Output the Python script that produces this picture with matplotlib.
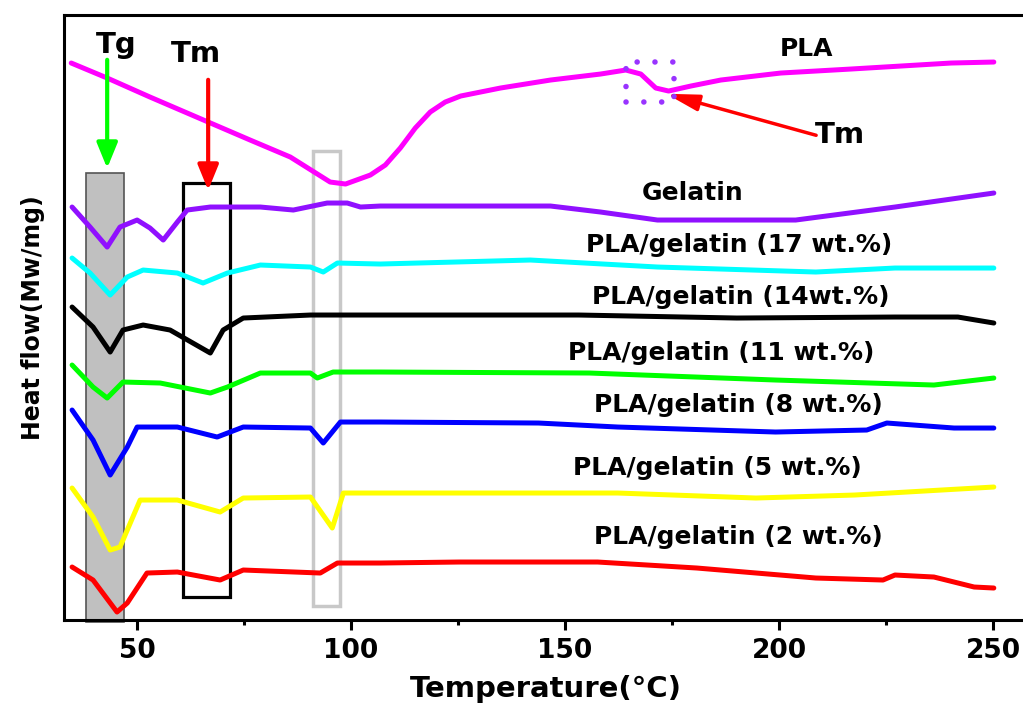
import matplotlib
matplotlib.use("Agg")
import matplotlib.pyplot as plt
from matplotlib.patches import Rectangle, FancyArrowPatch
from matplotlib.ticker import MultipleLocator

plt.rcParams["font.family"] = ["DejaVu Sans"]
plt.rcParams["font.weight"] = "bold"

# DSC curves, temperature (°C) vs stacked heat flow (arbitrary offset units)
pla_t = [34.6, 43.0, 53.0, 66.6, 76.4, 85.8, 95.1, 98.7, 104.5, 108.0, 111.5, 115.0, 118.5, 122.0,
         125.6, 134.9, 146.6, 158.3, 164.2, 167.7, 171.2, 174.2, 179.4, 186.4, 200.4, 216.8,
         228.5, 240.2, 250.2]
pla_y = [557, 542, 523, 498, 480, 463, 438, 436, 445, 455, 472, 492, 508, 518,
         524, 532, 540, 546, 550, 546, 532, 529, 534, 540, 547, 551, 554, 557, 558]

gel_t = [34.8, 39.0, 43.0, 46.0, 50.0, 53.0, 56.1, 59.4, 61.7, 67.1, 78.8, 86.5, 94.4, 99.1,
         102.2, 106.8, 146.6, 158.3, 171.6, 203.9, 227.1, 250.2]
gel_y = [413, 393, 373, 393, 400, 392, 380, 398, 410, 413, 413, 410, 417, 417,
         413, 414, 414, 408, 400, 400, 413, 427]

g17_t = [34.8, 39.0, 43.7, 47.7, 51.4, 59.4, 65.4, 71.1, 78.8, 90.5, 93.5, 96.8, 106.8,
         141.9, 171.6, 208.6, 227.1, 250.2]
g17_y = [362, 347, 325, 343, 350, 347, 337, 347, 355, 353, 348, 357, 356,
         360, 353, 348, 352, 352]

g14_t = [34.8, 39.7, 43.7, 46.7, 51.4, 57.7, 67.1, 70.1, 74.8, 90.5, 106.8, 153.2, 190.1,
         227.1, 241.8, 250.2]
g14_y = [313, 293, 268, 290, 295, 290, 267, 290, 302, 305, 305, 305, 302, 303, 303, 297]

g11_t = [34.8, 39.7, 43.0, 46.7, 55.4, 67.1, 71.1, 78.8, 90.5, 92.1, 95.8, 106.8, 155.7,
         199.2, 236.2, 250.2]
g11_y = [255, 233, 222, 238, 237, 227, 233, 247, 247, 242, 248, 248, 247, 240, 235, 242]

g8_t = [34.8, 39.7, 43.7, 47.7, 50.0, 59.4, 68.7, 74.8, 90.5, 93.5, 97.5, 106.8, 143.8,
        162.3, 199.2, 220.5, 225.2, 240.9, 250.2]
g8_y = [210, 180, 145, 173, 193, 193, 183, 193, 192, 177, 198, 198, 197,
        193, 188, 190, 197, 192, 192]

g5_t = [34.8, 39.7, 43.7, 46.0, 50.7, 59.4, 69.4, 74.8, 90.5, 95.6, 98.2, 106.8, 162.3,
        194.6, 217.7, 250.2]
g5_y = [132, 103, 70, 73, 120, 120, 108, 122, 123, 92, 127, 127, 127, 122, 125, 133]

g2_t = [34.8, 39.7, 45.3, 47.7, 52.3, 59.4, 69.4, 74.8, 92.8, 96.8, 106.8, 125.3, 157.6,
        180.8, 208.6, 224.3, 227.1, 236.2, 245.6, 250.2]
g2_y = [53, 40, 8, 17, 47, 48, 40, 50, 47, 57, 57, 58, 58, 52, 42, 40, 45, 43, 33, 32]

series = [
    (pla_t, pla_y, "#ff00ff"),
    (gel_t, gel_y, "#9010ff"),
    (g17_t, g17_y, "#00ffff"),
    (g14_t, g14_y, "#000000"),
    (g11_t, g11_y, "#00ff00"),
    (g8_t, g8_y, "#0000ff"),
    (g5_t, g5_y, "#ffff00"),
    (g2_t, g2_y, "#ff0000"),
]

labels = ["PLA", "Gelatin", "PLA/gelatin (17 wt.%)", "PLA/gelatin (14wt.%)",
          "PLA/gelatin (11 wt.%)", "PLA/gelatin (8 wt.%)", "PLA/gelatin (5 wt.%)",
          "PLA/gelatin (2 wt.%)"]
label_t = [206.5, 179.8, 190.6, 191.1, 186.6, 190.6, 185.7, 190.6]
label_y = [571, 427, 375, 323, 267, 215, 152, 83]

fig = plt.figure(figsize=(10.23, 7.09), dpi=100)
ax = fig.add_axes([0.0626, 0.1255, 0.9413, 0.8533])

# highlight boxes
ax.add_patch(Rectangle((38.1, -2), 8.9, 449, facecolor="#c0c0c0", edgecolor="#555555",
                       lw=1.2, zorder=1, clip_on=False))
ax.add_patch(Rectangle((60.8, 23), 11.0, 414, facecolor="none", edgecolor="black",
                       lw=2.3, zorder=1))
ax.add_patch(Rectangle((91.2, 14), 6.1, 455, facecolor="none", edgecolor="#c8c8c8",
                       lw=2.5, zorder=1))

for t, y, c in series:
    ax.plot(t, y, color=c, lw=3.6, solid_joinstyle="round", solid_capstyle="round", zorder=3)

for s, tx, ty in zip(labels, label_t, label_y):
    ax.text(tx, ty, s, ha="center", va="center", fontsize=18, fontweight="bold")

# Tg / Tm markers
ax.text(45.1, 575, "Tg", ha="center", va="center", fontsize=21, fontweight="bold")
ax.text(63.8, 566, "Tm", ha="center", va="center", fontsize=21, fontweight="bold")
ax.text(214.2, 485, "Tm", ha="center", va="center", fontsize=21, fontweight="bold")

ax.add_patch(FancyArrowPatch((43.0, 563), (43.0, 449), arrowstyle="-|>,head_length=1.1,head_width=0.45",
                             mutation_scale=14, color="#00ff00", lw=3, zorder=4))
ax.add_patch(FancyArrowPatch((66.6, 543), (66.6, 427), arrowstyle="-|>,head_length=1.1,head_width=0.45",
                             mutation_scale=14, color="#ff0000", lw=3, zorder=4))
ax.add_patch(FancyArrowPatch((209.3, 484), (173.0, 527), arrowstyle="-|>,head_length=1.4,head_width=0.35",
                             mutation_scale=14, color="#ff0000", lw=2.5, zorder=4))
ax.add_patch(Rectangle((164.2, 518), 11.2, 40, facecolor="none", edgecolor="#9933ff",
                       lw=4, linestyle=(0, (0.01, 3.2)), capstyle="round", zorder=4))

ax.set_xlim(32.92, 257.95)
ax.set_ylim(0, 605)
ax.xaxis.set_major_locator(MultipleLocator(50))
ax.xaxis.set_minor_locator(MultipleLocator(25))
ax.set_yticks([])
ax.tick_params(axis="x", which="major", direction="out", length=7, width=2.2, labelsize=19, pad=6)
ax.tick_params(axis="x", which="minor", direction="out", length=3.5, width=2.2)
for lab in ax.get_xticklabels():
    lab.set_fontweight("bold")
for sp in ["left", "bottom", "top"]:
    ax.spines[sp].set_linewidth(2.2)
ax.spines["right"].set_visible(False)

ax.set_xlabel("Temperature(°C)", fontsize=21, fontweight="bold", labelpad=8)
ax.set_ylabel("Heat flow(Mw/mg)", fontsize=17, fontweight="bold", labelpad=14)

fig.savefig("out.png", dpi=100)
